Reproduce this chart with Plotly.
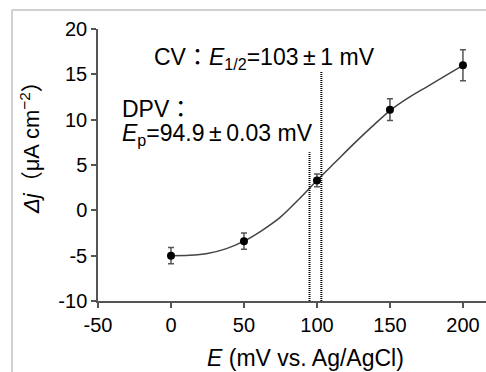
import plotly.graph_objects as go

# measured points
E_mV = [0, 50, 100, 150, 200]
dj = [-5.0, -3.4, 3.3, 11.1, 16.0]
dj_err = [0.9, 0.9, 0.7, 1.2, 1.7]

# fitted curve
curve_E = [0, 12.5, 25, 37.5, 50, 62.5, 75, 87.5, 100, 112.5, 125, 137.5, 150, 162.5, 175, 187.5, 200]
curve_dj = [-5.0, -4.95, -4.75, -4.25, -3.4, -2.2, -0.75, 1.2, 3.3, 5.3, 7.3, 9.2, 11.0, 12.4, 13.6, 14.8, 16.0]

# reference potentials (vertical dotted lines)
E_dpv = 94.9
E_dpv_top = 6.4
E_cv = 103
E_cv_top = 15.3

x_ticks = [-50, 0, 50, 100, 150, 200]
x_ticktext = ["-50", "0", "50", "100", "150", "200"]
y_ticks = [-10, -5, 0, 5, 10, 15, 20]
y_ticktext = ["-10", "-5", "0", "5", "10", "15", "20"]

FONT = "Liberation Sans, Arial, Noto Sans CJK JP, sans-serif"

fig = go.Figure()

fig.add_trace(go.Scatter(
    x=curve_E, y=curve_dj, mode="lines",
    line=dict(color="#444444", width=1.5, shape="spline", smoothing=0.8),
    hoverinfo="skip", showlegend=False))

fig.add_trace(go.Scatter(
    x=[E_dpv, E_dpv], y=[-10, E_dpv_top], mode="lines",
    line=dict(color="black", width=2, dash="1px,1px"), showlegend=False))
fig.add_trace(go.Scatter(
    x=[E_cv, E_cv], y=[-10, E_cv_top], mode="lines",
    line=dict(color="black", width=2, dash="1px,1px"), showlegend=False))

fig.add_trace(go.Scatter(
    x=E_mV, y=dj, mode="markers",
    marker=dict(color="black", size=8),
    error_y=dict(type="data", array=dj_err, color="#555555", thickness=1.5, width=3),
    showlegend=False))

axis_common = dict(showgrid=False, zeroline=False, showline=True, linecolor="#555555",
                   linewidth=1.5, ticks="outside", ticklen=5, tickcolor="#555555",
                   tickwidth=1.5, tickfont=dict(family=FONT, size=20, color="black"))

fig.update_xaxes(range=[-50, 215.8], tickvals=x_ticks, ticktext=x_ticktext, **axis_common)
fig.update_yaxes(range=[-10, 20], tickvals=y_ticks, ticktext=y_ticktext, **axis_common)

fig.update_layout(
    width=486, height=372,
    margin=dict(l=98, r=0, t=29, b=71),
    paper_bgcolor="white", plot_bgcolor="white",
    font=dict(family=FONT, size=23, color="black"),
)

# frame lines around the figure (cropped on right and bottom)
fx0 = (12 - 98) / 388
fy1 = (301 - 10) / 272
fig.add_shape(type="line", xref="paper", yref="paper", x0=fx0, x1=fx0, y0=-0.3, y1=fy1,
              line=dict(color="#c0c0c0", width=1.5))
fig.add_shape(type="line", xref="paper", yref="paper", x0=fx0, x1=1.0, y0=fy1, y1=fy1,
              line=dict(color="#c0c0c0", width=1.5))

PM = "\u2009±\u2009"
ann = [
    dict(x=-13, y=16.8, text="CV：<i>E</i><sub>1/2</sub>=103" + PM + "1 mV", xanchor="left"),
    dict(x=-35, y=11.2, text="DPV：", xanchor="left"),
    dict(x=-35, y=8.4, text="<i>E</i><sub>p</sub>=94.9" + PM + "0.03 mV", xanchor="left"),
]
for a in ann:
    fig.add_annotation(xref="x", yref="y", showarrow=False, yanchor="middle",
                       font=dict(family=FONT, size=23, color="black"), **a)

fig.add_annotation(xref="paper", yref="paper", x=(305 - 98) / 388, y=(301 - 358) / 272,
                   text="<i>E</i> (mV vs. Ag/AgCl)", showarrow=False,
                   xanchor="center", yanchor="middle",
                   font=dict(family=FONT, size=23, color="black"))
fig.add_annotation(xref="paper", yref="paper", x=(30 - 98) / 388, y=(301 - 142) / 272,
                   text="<i>Δj</i>（μA cm<sup>−2</sup>）", showarrow=False, textangle=-90,
                   xanchor="center", yanchor="middle",
                   font=dict(family=FONT, size=22, color="black"))

fig.write_html("out.html", config={"displayModeBar": False},
               post_script="document.body.style.margin='0';")
